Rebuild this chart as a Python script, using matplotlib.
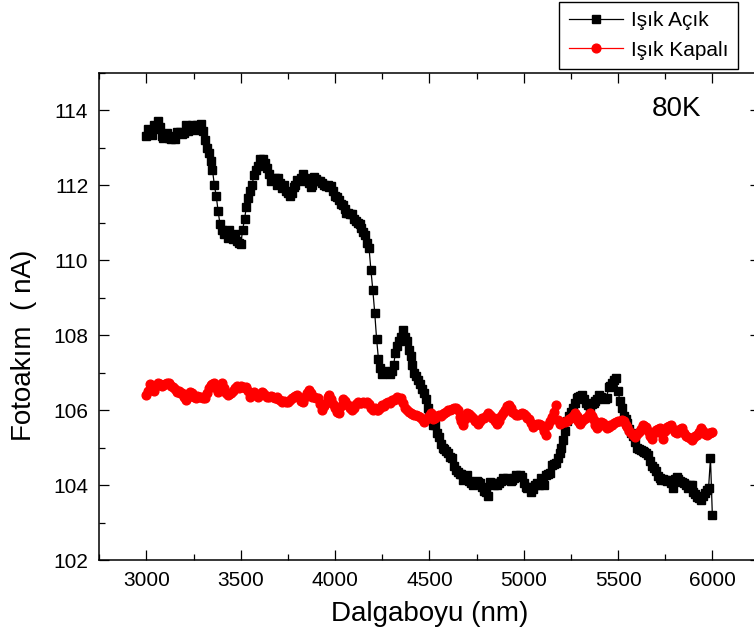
import numpy as np
import matplotlib
matplotlib.use("Agg")
import matplotlib.pyplot as plt
from matplotlib.ticker import MultipleLocator

plt.rcParams['font.family'] = ['Liberation Sans', 'DejaVu Sans']

# wavelength grid (nm), one reading every 10 nm
wavelength = np.arange(3000, 6001, 10)

# Işık Açık (light on), nA
acik = [
    113.3, 113.5, 113.35, 113.33, 113.6, 113.5, 113.7, 113.55, 113.3, 113.25,
    113.3, 113.4, 113.25, 113.23, 113.3, 113.23, 113.42, 113.4, 113.42, 113.36,
    113.4, 113.6, 113.45, 113.52, 113.6, 113.55, 113.47, 113.6, 113.55, 113.63,
    113.45, 113.2, 113.0, 112.85, 112.65, 112.4, 112.0, 111.7, 111.3, 110.95,
    110.8, 110.7, 110.75, 110.6, 110.8, 110.65, 110.55, 110.7, 110.5, 110.45,
    110.43, 110.8, 111.1, 111.42, 111.65, 111.85, 112.0, 112.27, 112.4, 112.5,
    112.7, 112.6, 112.7, 112.6, 112.45, 112.3, 112.1, 112.13, 112.2, 112.0,
    112.18, 112.05, 111.92, 112.0, 111.85, 111.8, 111.7, 111.8, 111.95, 112.0,
    112.13, 112.1, 112.2, 112.3, 112.2, 112.1, 112.05, 111.95, 112.0, 112.22,
    112.15, 112.1, 112.1, 112.05, 112.0, 111.97, 112.0, 111.95, 111.97, 111.85,
    111.7, 111.69, 111.6, 111.5, 111.47, 111.35, 111.25, 111.25, 111.23, 111.23,
    111.1, 111.05, 111.0, 110.95, 110.85, 110.75, 110.67, 110.45, 110.32, 109.73,
    109.2, 108.6, 107.9, 107.35, 107.12, 106.95, 107.05, 107.0, 107.0, 106.95,
    107.05, 107.2, 107.52, 107.7, 107.85, 107.95, 108.13, 107.95, 107.85, 107.6,
    107.45, 107.2, 107.0, 106.9, 106.8, 106.7, 106.55, 106.45, 106.3, 106.05,
    105.85, 105.75, 105.6, 105.6, 105.4, 105.29, 105.1, 105.0, 104.95, 104.9,
    104.85, 104.75, 104.72, 104.5, 104.4, 104.35, 104.3, 104.3, 104.13, 104.2,
    104.27, 104.1, 104.05, 104.0, 104.05, 104.1, 104.09, 104.05, 103.96, 103.85,
    103.82, 103.7, 104.09, 104.05, 104.0, 104.05, 104.0, 104.05, 104.1, 104.19,
    104.15, 104.2, 104.13, 104.1, 104.13, 104.2, 104.27, 104.25, 104.27, 104.22,
    104.05, 103.96, 103.92, 103.95, 103.82, 103.9, 104.0, 104.05, 104.0, 104.19,
    104.1, 104.0, 104.27, 104.3, 104.32, 104.53, 104.55, 104.6, 104.72, 104.85,
    105.0, 105.2, 105.45, 105.7, 105.85, 105.95, 106.05, 106.2, 106.32, 106.35,
    106.38, 106.4, 106.3, 106.2, 106.13, 106.05, 106.15, 106.2, 106.25, 106.3,
    106.4, 106.35, 106.32, 106.3, 106.32, 106.62, 106.65, 106.71, 106.8, 106.85,
    106.5, 106.25, 106.05, 105.85, 105.75, 105.65, 105.5, 105.4, 105.3, 105.15,
    105.0, 104.95, 104.93, 104.9, 104.89, 104.85, 104.8, 104.65, 104.52, 104.45,
    104.38, 104.25, 104.2, 104.13, 104.15, 104.13, 104.1, 104.13, 104.05, 103.92,
    104.15, 104.22, 104.15, 104.1, 104.09, 104.05, 104.0, 103.92, 104.0, 104.0,
    103.82, 103.75, 103.69, 103.65, 103.6, 103.72, 103.78, 103.87, 103.92, 104.72,
    103.2,
]

# Işık Kapalı (light off), nA
kapali = [
    106.4, 106.5, 106.7, 106.6, 106.5, 106.65, 106.73, 106.7, 106.65, 106.67,
    106.7, 106.72, 106.71, 106.65, 106.62, 106.55, 106.49, 106.5, 106.45, 106.45,
    106.35, 106.27, 106.35, 106.49, 106.45, 106.35, 106.32, 106.38, 106.35, 106.35,
    106.32, 106.32, 106.45, 106.6, 106.67, 106.7, 106.71, 106.6, 106.49, 106.6,
    106.71, 106.6, 106.45, 106.4, 106.42, 106.45, 106.5, 106.6, 106.64, 106.6,
    106.64, 106.62, 106.6, 106.62, 106.5, 106.35, 106.42, 106.49, 106.4, 106.35,
    106.4, 106.49, 106.45, 106.4, 106.35, 106.35, 106.38, 106.35, 106.33, 106.35,
    106.3, 106.27, 106.22, 106.25, 106.22, 106.22, 106.27, 106.32, 106.35, 106.38,
    106.4, 106.35, 106.25, 106.22, 106.35, 106.45, 106.53, 106.45, 106.35, 106.35,
    106.32, 106.32, 106.15, 106.0, 106.1, 106.2, 106.35, 106.4, 106.3, 106.15,
    106.05, 105.95, 105.92, 106.1, 106.3, 106.25, 106.15, 106.13, 106.05, 106.0,
    106.05, 106.15, 106.22, 106.2, 106.2, 106.22, 106.2, 106.22, 106.15, 106.05,
    106.0, 106.05, 106.0, 106.0, 106.05, 106.13, 106.1, 106.2, 106.22, 106.2,
    106.27, 106.27, 106.3, 106.35, 106.3, 106.32, 106.2, 106.05, 106.0, 105.95,
    105.92, 105.9, 105.87, 105.88, 105.85, 105.82, 105.75, 105.69, 105.75, 105.79,
    105.85, 105.92, 105.75, 105.79, 105.85, 105.87, 105.85, 105.9, 105.92, 105.95,
    106.0, 106.0, 106.02, 106.05, 106.05, 106.0, 105.82, 105.7, 105.6, 105.75,
    105.92, 105.9, 105.85, 105.79, 105.72, 105.68, 105.64, 105.7, 105.79, 105.8,
    105.85, 105.92, 105.88, 105.79, 105.79, 105.72, 105.64, 105.7, 105.85, 105.92,
    106.0, 106.1, 106.13, 106.05, 105.96, 105.92, 105.87, 105.87, 105.9, 105.92,
    105.9, 105.85, 105.79, 105.75, 105.65, 105.56, 105.6, 105.64, 105.64, 105.6,
    105.55, 105.45, 105.33, 105.6, 105.7, 105.82, 105.95, 106.13, 105.73, 105.64,
    105.65, 105.68, 105.69, 105.72, 105.77, 105.79, 105.85, 105.92, 105.85, 105.7,
    105.64, 105.7, 105.77, 105.79, 105.85, 105.92, 105.85, 105.73, 105.6, 105.52,
    105.6, 105.69, 105.65, 105.58, 105.52, 105.55, 105.6, 105.6, 105.65, 105.69,
    105.7, 105.72, 105.73, 105.7, 105.6, 105.55, 105.45, 105.38, 105.33, 105.29,
    105.35, 105.42, 105.5, 105.6, 105.58, 105.56, 105.45, 105.3, 105.24, 105.4,
    105.47, 105.5, 105.52, 105.4, 105.24, 105.45, 105.56, 105.58, 105.6, 105.5,
    105.42, 105.38, 105.45, 105.5, 105.52, 105.4, 105.32, 105.29, 105.25, 105.2,
    105.25, 105.3, 105.33, 105.42, 105.52, 105.45, 105.35, 105.33, 105.38, 105.4,
    105.42,
]

fig = plt.figure(figsize=(7.54, 6.42), dpi=100)
ax = fig.add_axes([0.1317, 0.1277, 0.8756, 0.7593])

ax.plot(wavelength, acik, color='black', lw=0.9, marker='s', ms=5.8,
        label='Işık Açık')
ax.plot(wavelength, kapali, color='red', lw=0.9, marker='o', ms=6.3,
        label='Işık Kapalı')

ax.set_xlim(2750, 6250)
ax.set_ylim(102, 115)
ax.xaxis.set_major_locator(MultipleLocator(500))
ax.xaxis.set_minor_locator(MultipleLocator(250))
ax.yaxis.set_major_locator(MultipleLocator(2))
ax.yaxis.set_minor_locator(MultipleLocator(1))
ax.tick_params(which='both', direction='in', top=True, right=True, width=0.9)
ax.tick_params(which='major', length=7, labelsize=15, pad=8)
ax.tick_params(which='minor', length=4)
for sp in ax.spines.values():
    sp.set_linewidth(1.1)

ax.set_xlabel('Dalgaboyu (nm)', fontsize=20, labelpad=8)
ax.set_ylabel('Fotoakım  ( nA)', fontsize=20)
ax.yaxis.set_label_coords(-0.095, 0.44)

ax.text(0.875, 0.925, '80K', transform=ax.transAxes, fontsize=20,
        ha='center', va='center')

leg = fig.legend(loc='upper right', bbox_to_anchor=(0.979, 0.997),
                 borderaxespad=0, fontsize=15, frameon=True, fancybox=False,
                 framealpha=1, edgecolor='black', handlelength=2.6,
                 borderpad=0.45, labelspacing=0.5, handletextpad=0.4)
leg.get_frame().set_linewidth(1.0)

fig.savefig('out.png', dpi=100)
